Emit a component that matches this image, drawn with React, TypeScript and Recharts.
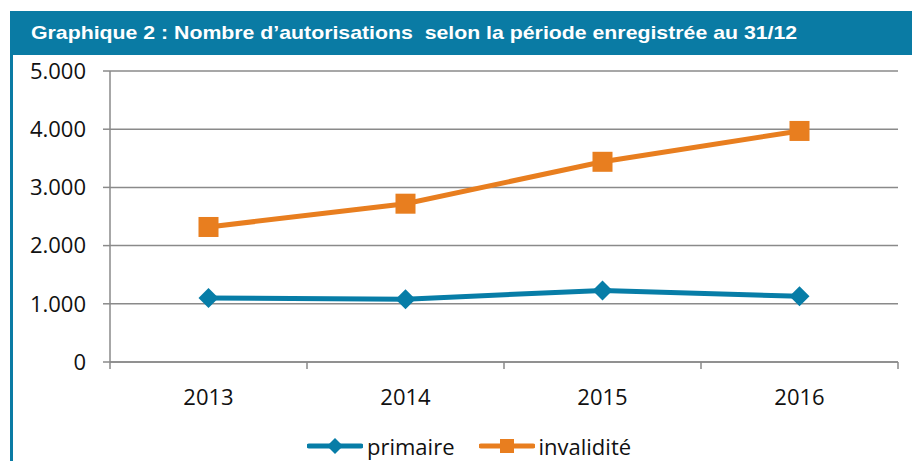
import { LineChart, Line, XAxis, YAxis, CartesianGrid, Legend } from 'recharts';

const years = ['2013', '2014', '2015', '2016'];
const primaire = [1100, 1080, 1230, 1130];
const invalidite = [2320, 2720, 3440, 3970];
const yTicks = [0, 1000, 2000, 3000, 4000, 5000];

const BLUE = '#077da7';
const ORANGE = '#e87e1f';
const GRID = '#8a8a8a';
const LABEL_FONT = '"Open Sans", sans-serif';

// x sits in the middle of each category, ticks on the category boundaries
const data = years.map((year, i) => ({
  x: i + 0.5,
  year,
  primaire: primaire[i],
  invalidite: invalidite[i],
}));
const xTicks = [0, ...years.flatMap((_, i) => [i + 0.5, i + 1])];

const formatThousands = (v: number) => String(v).replace(/\B(?=(\d{3})+(?!\d))/g, '.');

const Diamond = ({ cx, cy, size = 10, color = BLUE }: any) => {
  if (cx == null || cy == null) return null;
  return (
    <path
      d={`M${cx},${cy - size} L${cx + size},${cy} L${cx},${cy + size} L${cx - size},${cy} Z`}
      fill={color}
    />
  );
};

const Square = ({ cx, cy, size = 10, color = ORANGE }: any) => {
  if (cx == null || cy == null) return null;
  return <rect x={cx - size} y={cy - size} width={size * 2} height={size * 2} fill={color} />;
};

const XTick = ({ x, y, payload }: any) => {
  const v = payload.value as number;
  if (Number.isInteger(v)) {
    return <line x1={x} x2={x} y1={y} y2={y + 7} stroke={GRID} strokeWidth={1.5} />;
  }
  return (
    <text x={x} y={y + 43} textAnchor="middle" fill="#111" fontSize={22} fontFamily={LABEL_FONT}>
      {years[Math.floor(v)]}
    </text>
  );
};

const LegendContent = () => {
  const items = [
    { name: 'primaire', color: BLUE, shape: 'diamond' },
    { name: 'invalidité', color: ORANGE, shape: 'square' },
  ];
  return (
    <div style={{ display: 'flex', alignItems: 'center', fontFamily: LABEL_FONT, fontSize: 22, color: '#111' }}>
      {items.map((item, i) => (
        <div key={item.name} style={{ display: 'flex', alignItems: 'center', marginRight: i === 0 ? 24 : 0 }}>
          <svg width={56} height={20} style={{ marginRight: 4 }}>
            <line x1={2} x2={54} y1={10} y2={10} stroke={item.color} strokeWidth={5} strokeLinecap="round" />
            {item.shape === 'diamond' ? (
              <Diamond cx={28} cy={10} size={8} color={item.color} />
            ) : (
              <Square cx={28} cy={10} size={7} color={item.color} />
            )}
          </svg>
          <span style={{ lineHeight: '28px' }}>{item.name}</span>
        </div>
      ))}
    </div>
  );
};

export default function App() {
  return (
    <div style={{ position: 'absolute', left: 0, top: 0, width: 912, height: 461, overflow: 'hidden', background: '#fff' }}>
      <div
        style={{
          position: 'absolute',
          left: 10,
          top: 11,
          width: 902,
          height: 44,
          background: '#0a7ba4',
        }}
      >
        <div
          style={{
            position: 'absolute',
            left: 21,
            top: 0,
            lineHeight: '44px',
            fontFamily: '"Liberation Sans", Arial, sans-serif',
            fontWeight: 'bold',
            fontSize: 18.5,
            color: '#fff',
            whiteSpace: 'pre',
            transform: 'scaleX(1.15)',
            transformOrigin: 'left center',
          }}
        >
          Graphique 2 : Nombre d’autorisations  selon la période enregistrée au 31/12
        </div>
      </div>
      <div style={{ position: 'absolute', left: 10, top: 55, width: 3, height: 406, background: '#0a7ba4' }} />

      <div style={{ position: 'absolute', left: 0, top: 0 }}>
        <LineChart width={912} height={461} data={data} margin={{ top: 71, right: 14, bottom: 21, left: 0 }}>
          <CartesianGrid vertical={false} stroke={GRID} strokeWidth={1.5} />
          <XAxis
            dataKey="x"
            type="number"
            domain={[0, years.length]}
            ticks={xTicks}
            interval={0}
            height={50}
            axisLine={{ stroke: GRID, strokeWidth: 1.5 }}
            tickLine={false}
            tickSize={0}
            tickMargin={0}
            tick={<XTick />}
          />
          <YAxis
            domain={[0, 5000]}
            ticks={yTicks}
            width={110}
            axisLine={{ stroke: GRID, strokeWidth: 1.5 }}
            tickLine={{ stroke: GRID, strokeWidth: 1.5 }}
            tickSize={7}
            tickMargin={17}
            tickFormatter={formatThousands}
            tick={{ fill: '#111', fontSize: 22, fontFamily: LABEL_FONT }}
          />
          <Legend
            verticalAlign="bottom"
            content={<LegendContent />}
            wrapperStyle={{ left: 307, top: 432, width: 360, height: 28 }}
          />
          <Line
            type="linear"
            dataKey="primaire"
            name="primaire"
            stroke={BLUE}
            strokeWidth={5}
            dot={(p: any) => <Diamond key={`d-${p.index}`} cx={p.cx} cy={p.cy} size={10} color={BLUE} />}
            activeDot={false}
            isAnimationActive={false}
          />
          <Line
            type="linear"
            dataKey="invalidite"
            name="invalidité"
            stroke={ORANGE}
            strokeWidth={5}
            dot={(p: any) => <Square key={`s-${p.index}`} cx={p.cx} cy={p.cy} size={10} color={ORANGE} />}
            activeDot={false}
            isAnimationActive={false}
          />
        </LineChart>
      </div>
    </div>
  );
}
